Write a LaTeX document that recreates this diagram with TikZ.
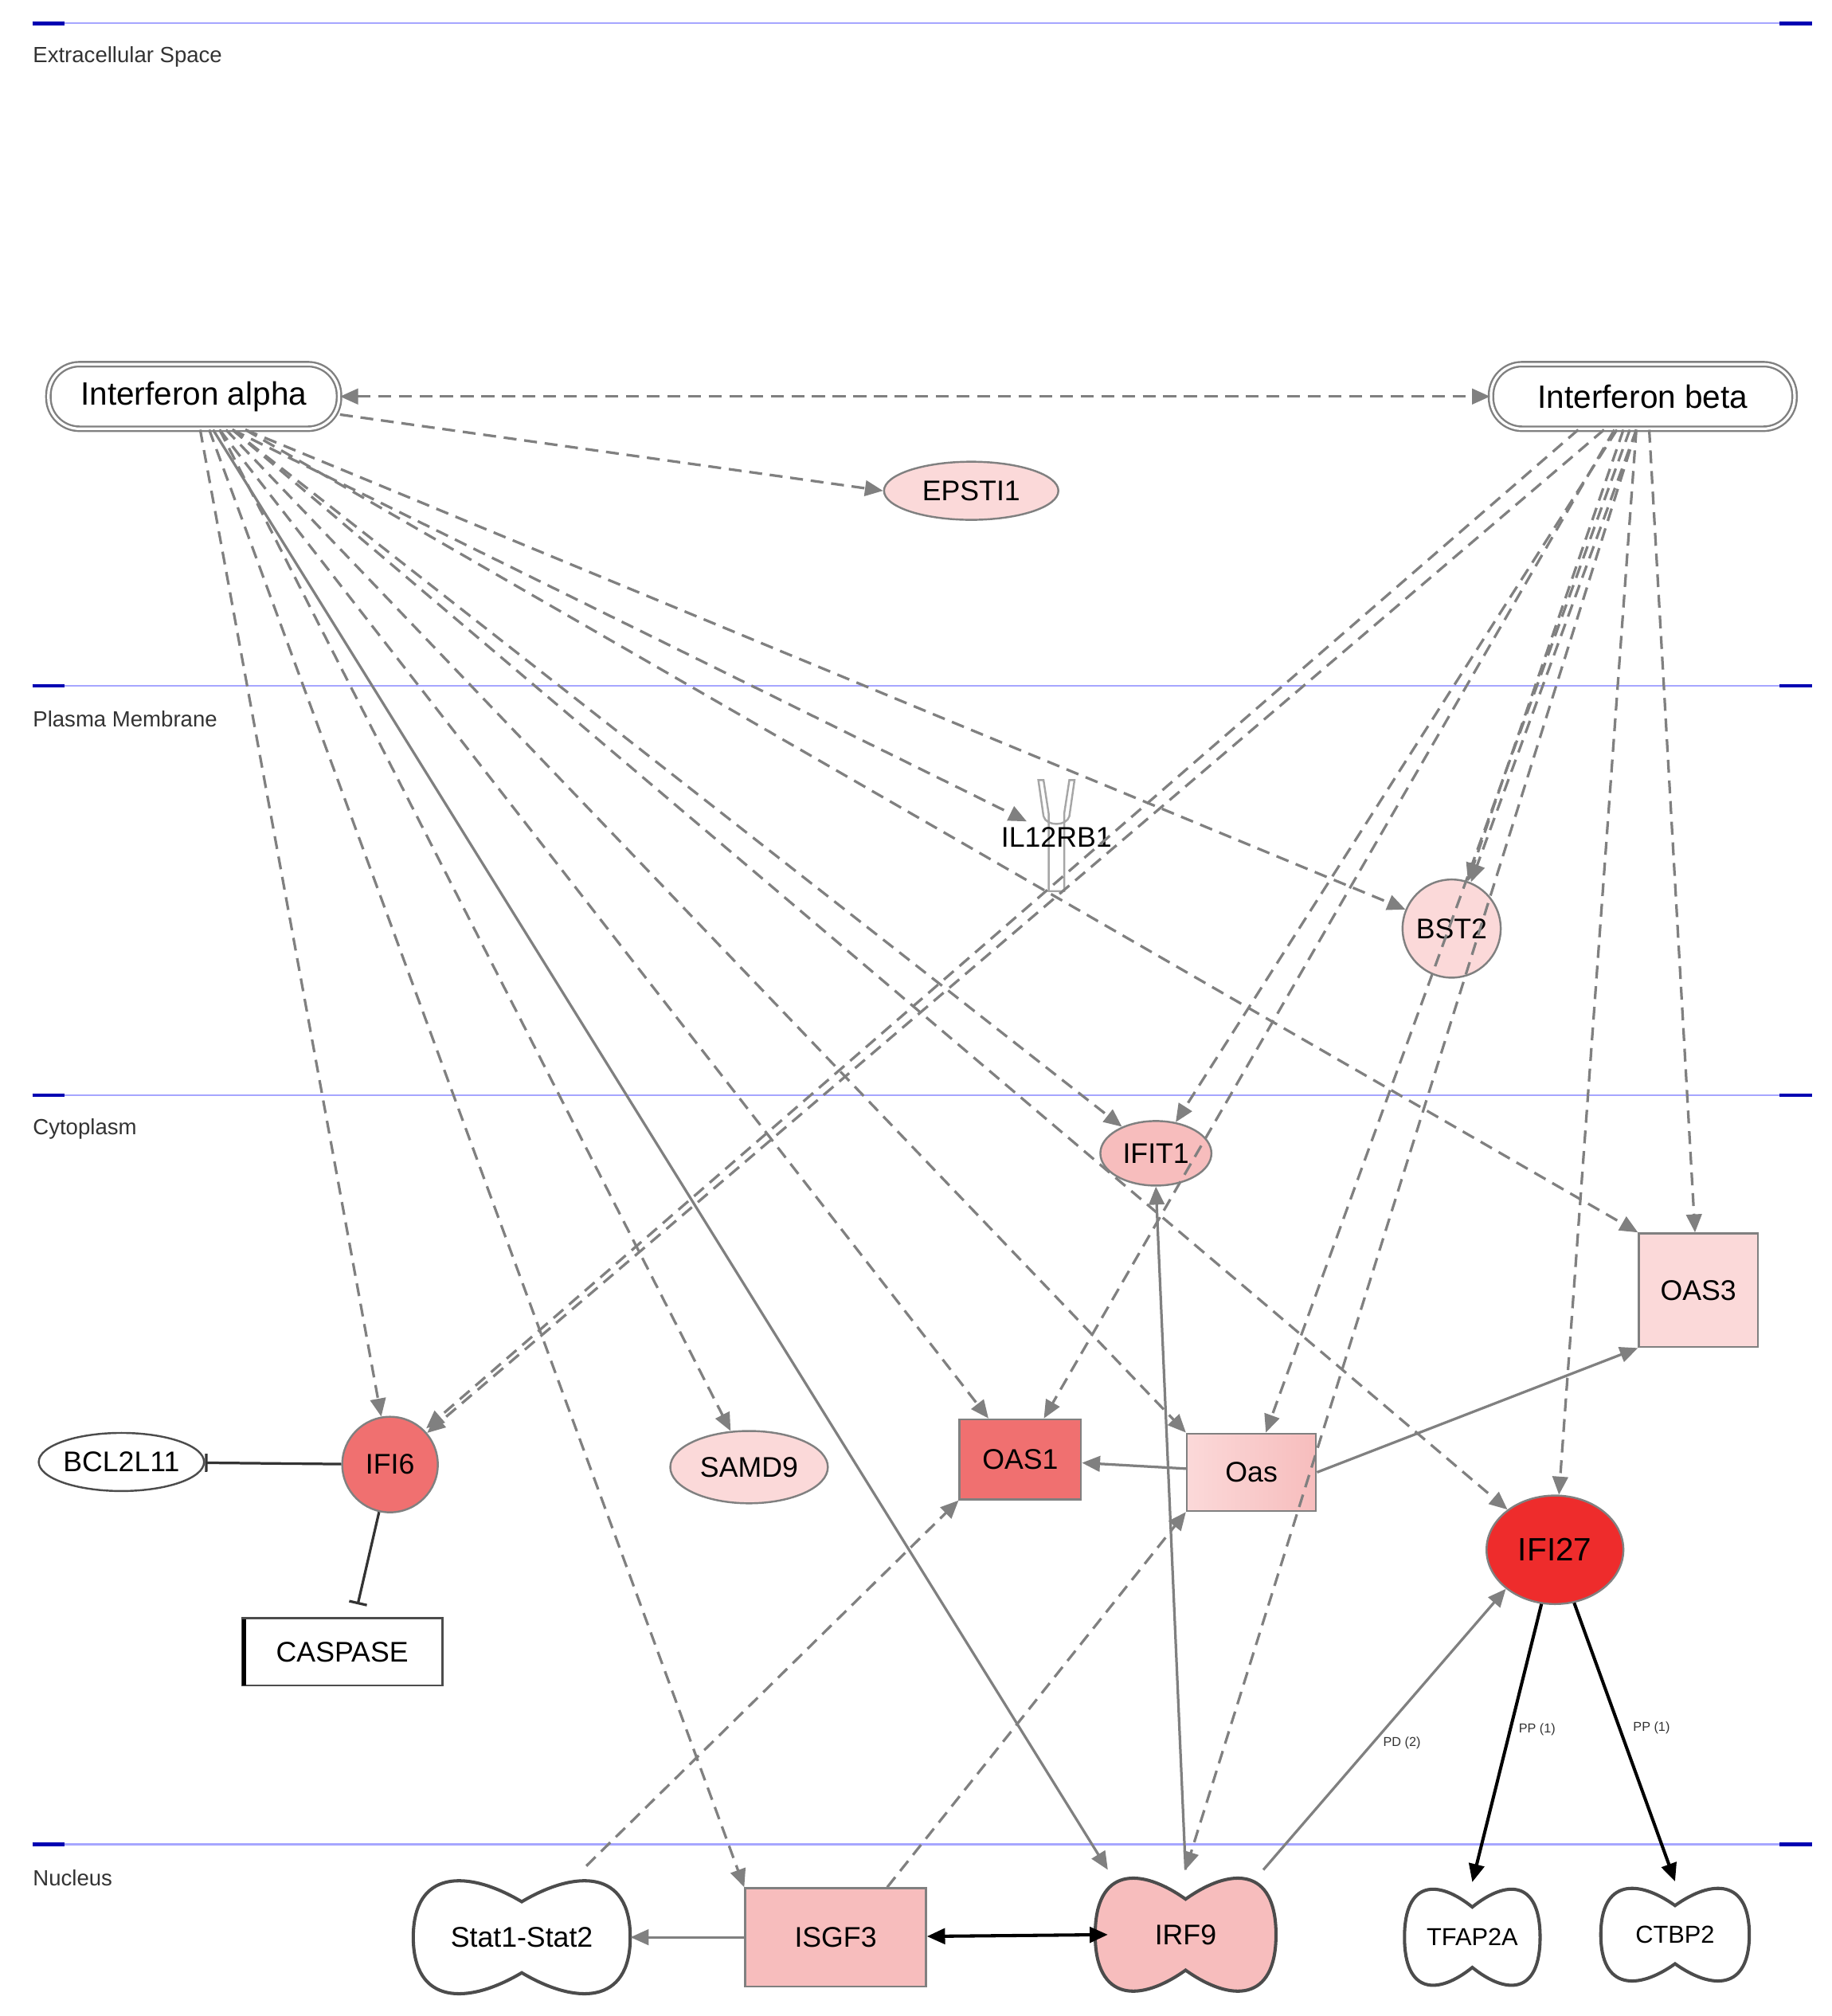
\documentclass[tikz,border=0pt]{standalone}
\usepackage{fontspec}
\setmainfont{Liberation Sans}
\usetikzlibrary{shapes.geometric,arrows.meta,calc}
\definecolor{lpink}{HTML}{FBD9D9}
\definecolor{mpink}{HTML}{F7BDBD}
\definecolor{dred}{HTML}{F07070}
\definecolor{rred}{HTML}{EE2C2C}
\definecolor{eg}{HTML}{808080}
\tikzset{
 every node/.style={font=\fontsize{22}{26}\selectfont},
 bord/.style={draw=eg,line width=1.5pt},
 dsh/.style={draw=eg,line width=2pt,dash pattern=on 10pt off 6pt,-{Triangle[length=14pt,width=12pt]}},
 sol/.style={draw=eg,line width=2pt,-{Triangle[length=14pt,width=12pt]}},
 blk/.style={draw=black,line width=2.5pt,-{Triangle[length=14pt,width=12pt]}},
 inh/.style={draw=black!80,line width=2pt,-{Bar[width=14pt]}},
 layer/.style={draw=blue!35,line width=1.5pt},
 lab/.style={font=\fontsize{17}{20}\selectfont,anchor=west,text=black!80},
 tiny/.style={font=\fontsize{10}{12}\selectfont,text=black!80},
}
\newcommand{\peanut}[5]{% x y w h fill
 \begin{scope}[shift={(#1,#2)},xscale=#3/2,yscale=#4/2]
 \draw[fill=#5,draw=black!70,line width=2.5pt] (-1,0) .. controls (-1,-1.05) and (-0.5,-1.05) .. (0,-0.55) .. controls (0.5,-1.05) and (1,-1.05) .. (1,0) .. controls (1,1.05) and (0.5,1.05) .. (0,0.55) .. controls (-0.5,1.05) and (-1,1.05) .. (-1,0) -- cycle;
 \end{scope}}
\begin{document}
\begin{tikzpicture}[x=1pt,y=-1pt]
\useasboundingbox[fill=white] (0,0) rectangle (1418,1561);
% layers
\foreach \yy/\tt in {18/Extracellular Space,531/Plasma Membrane,848/Cytoplasm,1428/Nucleus}{
 \draw[layer] (25,\yy) -- (1403,\yy);
 \draw[blue!70!black,line width=3pt] (25,\yy) -- (50,\yy) (1378,\yy) -- (1403,\yy);
 \node[lab] at (22,\yy+26) {\tt};}
% shapes
\peanut{404}{1500}{168}{100}{white}
\peanut{918}{1498}{140}{100}{mpink}
\peanut{1140}{1500}{105}{85}{white}
\peanut{1297}{1498}{115}{82}{white}
% receptor
\draw[eg!70,line width=1.5pt,fill=white] (808,604) -- (812,630) -- (812,690) -- (824,690) -- (824,630) -- (828,604) -- (832,604) -- (828,632) .. controls (826,640) and (810,640) .. (808,632) -- (804,604) -- cycle;
% nodes
\node[bord,double,double distance=2pt,rounded corners=24pt,minimum width=225pt,minimum height=50pt,fill=white,font=\fontsize{25}{28}\selectfont] (ia) at (150,307) {Interferon alpha};
\node[bord,double,double distance=2pt,rounded corners=24pt,minimum width=235pt,minimum height=50pt,fill=white,font=\fontsize{25}{28}\selectfont] (ib) at (1272,307) {Interferon beta};
\node[bord,ellipse,fill=lpink,minimum width=135pt,minimum height=45pt,inner sep=0] (ep) at (752,380) {EPSTI1};
\node[inner sep=0] (il) at (818,648) {IL12RB1};
\node[bord,circle,fill=lpink,minimum size=76pt,inner sep=0] (bst) at (1124,719) {BST2};
\node[bord,ellipse,fill=mpink,minimum width=86pt,minimum height=50pt,inner sep=0] (ifit) at (895,893) {IFIT1};
\node[bord,rectangle,fill=lpink,minimum width=92pt,minimum height=88pt] (oas3) at (1315,999) {OAS3};
\node[bord,circle,fill=dred,minimum size=74pt,inner sep=0] (ifi6) at (302,1134) {IFI6};
\node[draw=black!70,line width=1.5pt,ellipse,fill=white,minimum width=128pt,minimum height=45pt,inner sep=0] (bcl) at (94,1132) {BCL2L11};
\node[bord,ellipse,fill=lpink,minimum width=122pt,minimum height=56pt,inner sep=0] (sam) at (580,1136) {SAMD9};
\node[bord,rectangle,fill=dred,minimum width=94pt,minimum height=62pt] (oas1) at (790,1130) {OAS1};
\node[bord,rectangle,left color=lpink,right color=mpink,minimum width=100pt,minimum height=60pt] (oas) at (969,1140) {Oas};
\node[bord,ellipse,fill=rred,minimum width=106pt,minimum height=84pt,inner sep=0,font=\fontsize{25}{28}\selectfont] (ifi27) at (1204,1200) {IFI27};
\node[draw=black!70,line width=1.5pt,rectangle,fill=white,minimum width=155pt,minimum height=52pt] (cas) at (265,1279) {CASPASE};
\draw[black,line width=3pt] (189,1254) -- (189,1305);
\node[bord,rectangle,fill=mpink,minimum width=140pt,minimum height=76pt] (isg) at (647,1500) {ISGF3};
\node[minimum width=168pt,minimum height=100pt] (st) at (404,1500) {Stat1-Stat2};
\node[minimum width=120pt,minimum height=100pt] (irf) at (918,1498) {IRF9};
\node[minimum width=105pt,minimum height=85pt,font=\fontsize{19}{22}\selectfont] (tf) at (1140,1500) {TFAP2A};
\node[minimum width=115pt,minimum height=82pt,font=\fontsize{19}{22}\selectfont] (ct) at (1297,1498) {CTBP2};
% edges from alpha
\draw[dsh,{Triangle[length=14pt,width=12pt]}-{Triangle[length=14pt,width=12pt]}] (ia) -- (ib);
\draw[dsh] (ia.east) ++(0,14) -- (ep.west);
\draw[dsh] ($(ia.south)+(30,0)$) -- (795,636);
\draw[dsh] ($(ia.south)+(40,0)$) -- (bst);
\draw[dsh] ($(ia.south)+(30,0)$) -- (ifit);
\draw[dsh] ($(ia.south)+(40,0)$) -- (oas3.north west);
\draw[dsh] ($(ia.south)+(5,0)$) -- (ifi6);
\draw[dsh] ($(ia.south)+(20,0)$) -- (sam);
\draw[dsh] ($(ia.south)+(20,0)$) -- (oas1);
\draw[dsh] ($(ia.south)+(25,0)$) -- (oas.north west);
\draw[dsh] ($(ia.south)+(30,0)$) -- (ifi27);
\draw[dsh] ($(ia.south)+(12,0)$) -- (isg.north west);
\draw[sol] ($(ia.south)+(15,0)$) -- (irf.north west);
% edges from beta
\draw[dsh] ($(ib.south)+(-30,0)$) -- (ifi6);
\draw[dsh] ($(ib.south)+(-50,0)$) -- ($(ifi6)+(28,-28)$);
\draw[dsh] ($(ib.south)+(-15,0)$) -- (bst);
\draw[dsh] ($(ib.south)+(-5,0)$) -- ($(bst)+(15,-36)$);
\draw[dsh] ($(ib.south)+(-20,0)$) -- (ifit);
\draw[dsh] ($(ib.south)+(-22,0)$) -- (oas1);
\draw[dsh] ($(ib.south)+(-10,0)$) -- (oas);
\draw[dsh] ($(ib.south)+(-5,0)$) -- (irf.north);
\draw[dsh] ($(ib.south)+(-5,0)$) -- (ifi27);
\draw[dsh] ($(ib.south)+(5,0)$) -- (oas3);
% others
\draw[dsh] ($(st.north)+(50,-5)$) -- (oas1.south west);
\draw[dsh] ($(isg.north)+(40,0)$) -- (oas.south west);
\draw[sol] (irf.north) -- (ifit.south);
\draw[sol] (irf.north east) -- node[tiny,pos=0.45,right=4pt]{PD (2)} (ifi27.south west);
\draw[sol] (isg) -- (st.east);
\draw[blk,{Triangle[length=14pt,width=12pt]}-{Triangle[length=14pt,width=12pt]}] (isg) -- (irf.west);
\draw[sol] (oas) -- (oas1);
\draw[sol] (oas.east) -- (oas3.south west);
\draw[inh] (ifi6) -- (bcl);
\draw[inh] (ifi6) -- ($(cas.north)+(12,-10)$);
\draw[blk] (ifi27) -- node[tiny,pos=0.45,right=2pt]{PP (1)} (tf.north);
\draw[blk] (ifi27) -- node[tiny,pos=0.45,right=6pt]{PP (1)} (ct.north);
\end{tikzpicture}
\end{document}
